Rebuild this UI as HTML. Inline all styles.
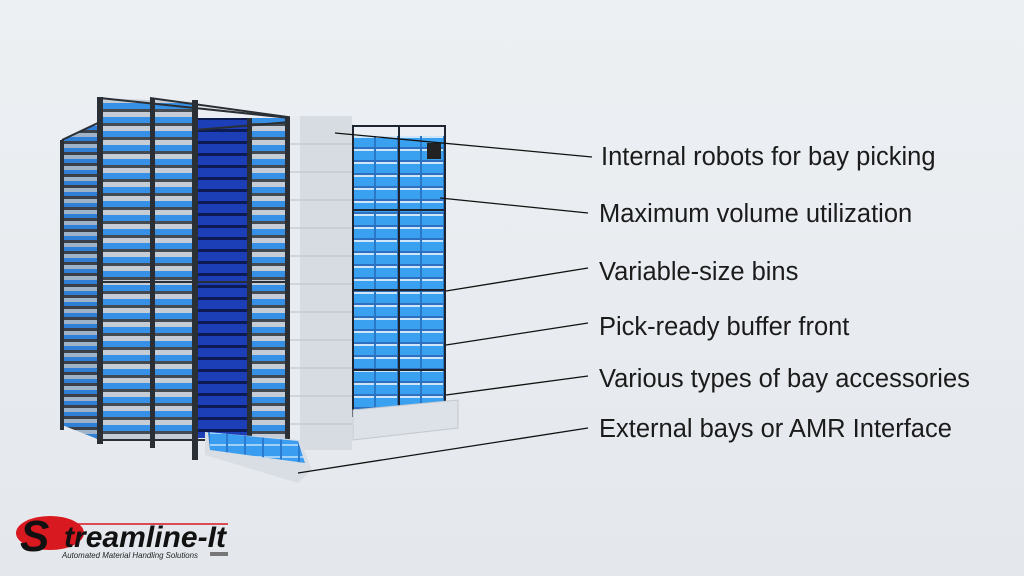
<!DOCTYPE html>
<html><head><meta charset="utf-8"><style>
html,body{margin:0;padding:0;width:1024px;height:576px;overflow:hidden;background:#e8ecf0}
svg{display:block}
</style></head><body>
<svg width="1024" height="576" viewBox="0 0 1024 576" xmlns="http://www.w3.org/2000/svg">
<defs>
<linearGradient id="bg" x1="0" y1="0" x2="0" y2="1"><stop offset="0" stop-color="#edf0f3"/><stop offset="1" stop-color="#e4e8ed"/></linearGradient>
<pattern id="shelfL" x="0" y="100" width="40" height="11" patternUnits="userSpaceOnUse">
<rect width="40" height="11" fill="#2f7fd6"/><rect y="0" width="40" height="4" fill="#9fb3c8"/><rect y="8" width="40" height="3" fill="#3a3f48"/></pattern>
<pattern id="shelfF" x="0" y="98" width="90" height="14" patternUnits="userSpaceOnUse">
<rect width="90" height="14" fill="#3690e6"/><rect y="0" width="90" height="5" fill="#c5ccd6"/><rect y="11" width="90" height="3" fill="#444a52"/></pattern>
<pattern id="dark" x="0" y="0" width="60" height="12" patternUnits="userSpaceOnUse">
<rect width="60" height="12" fill="#1c3fb8"/><rect y="9" width="60" height="3" fill="#0c1a55"/></pattern>
<pattern id="bins" x="353" y="136" width="23" height="13" patternUnits="userSpaceOnUse">
<rect width="23" height="13" fill="#3aa0f0"/><rect y="0" width="23" height="2" fill="#cfe6fa"/><rect x="21" width="2" height="13" fill="#2a78c8"/><rect y="11" width="23" height="2" fill="#2f6fc0"/></pattern>
<pattern id="tray" x="210" y="432" width="18" height="12" patternUnits="userSpaceOnUse">
<rect width="18" height="12" fill="#3b9df0"/><rect width="18" height="2" fill="#9fd0f8"/><rect x="16" width="2" height="12" fill="#2a7ad0"/></pattern>
</defs>
<rect width="1024" height="576" fill="url(#bg)"/>

<!-- left rack side -->
<polygon points="62,140 100,122 100,440 62,425" fill="url(#shelfL)"/>
<!-- left rack front -->
<polygon points="100,122 100,98 195,102 195,440 100,440" fill="url(#shelfF)"/>
<!-- second rack -->
<rect x="195" y="118" width="55" height="320" fill="url(#dark)"/>
<rect x="250" y="118" width="40" height="330" fill="url(#shelfF)"/>
<g fill="#2a2f36">
<rect x="60" y="140" width="4" height="290"/>
<rect x="97" y="97" width="6" height="347"/>
<rect x="150" y="98" width="5" height="350"/>
<rect x="192" y="100" width="6" height="360"/>
<rect x="247" y="118" width="5" height="320"/>
<rect x="285" y="118" width="6" height="340"/>
</g>
<g stroke="#2a2f36" stroke-width="2" fill="none">
<line x1="100" y1="98" x2="290" y2="118"/>
<line x1="150" y1="98" x2="353" y2="126"/>
<line x1="62" y1="140" x2="100" y2="122"/>
<line x1="100" y1="282" x2="290" y2="282"/>
<line x1="100" y1="440" x2="290" y2="440"/>
<line x1="195" y1="130" x2="290" y2="122"/>
</g>
<!-- white column -->
<rect x="290" y="116" width="62" height="334" fill="#d7dce3"/>
<rect x="290" y="116" width="10" height="334" fill="#e8ebef"/>
<g stroke="#b9c0c9" stroke-width="1">
<line x1="290" y1="144" x2="352" y2="144"/><line x1="290" y1="172" x2="352" y2="172"/><line x1="290" y1="200" x2="352" y2="200"/><line x1="290" y1="228" x2="352" y2="228"/><line x1="290" y1="256" x2="352" y2="256"/><line x1="290" y1="284" x2="352" y2="284"/><line x1="290" y1="312" x2="352" y2="312"/><line x1="290" y1="340" x2="352" y2="340"/><line x1="290" y1="368" x2="352" y2="368"/><line x1="290" y1="396" x2="352" y2="396"/><line x1="290" y1="424" x2="352" y2="424"/>
</g>
<!-- right rack -->
<rect x="353" y="136" width="92" height="280" fill="url(#bins)"/>
<g stroke="#1f2530" stroke-width="2" fill="none">
<rect x="353" y="126" width="92" height="290"/>
<line x1="399" y1="126" x2="399" y2="416"/>
<line x1="353" y1="210" x2="445" y2="210"/>
<line x1="353" y1="290" x2="445" y2="290"/>
<line x1="353" y1="370" x2="445" y2="370"/>
</g>
<rect x="427" y="143" width="14" height="16" fill="#222"/>
<polygon points="353,410 458,400 458,428 353,440" fill="#dde2e8" stroke="#c2c8d0"/>
<polygon points="205,432 300,440 312,470 298,483 205,455" fill="#d9dee5"/>
<polygon points="208,432 298,441 305,463 210,450" fill="url(#tray)"/>

<g stroke="#111" stroke-width="1.3">
<line x1="335" y1="133" x2="592" y2="157"/>
<line x1="440" y1="198" x2="588" y2="213"/>
<line x1="446" y1="291" x2="588" y2="268"/>
<line x1="446" y1="345" x2="588" y2="323"/>
<line x1="446" y1="395" x2="588" y2="376"/>
<line x1="298" y1="473" x2="588" y2="428"/>
</g>
<g font-family="Liberation Sans, sans-serif" font-size="25.5" fill="#1b1b1b">
<text x="601" y="165">Internal robots for bay picking</text>
<text x="599" y="222">Maximum volume utilization</text>
<text x="599" y="280">Variable-size bins</text>
<text x="599" y="335">Pick-ready buffer front</text>
<text x="599" y="387">Various types of bay accessories</text>
<text x="599" y="437">External bays or AMR Interface</text>
</g>
<!-- logo -->
<ellipse cx="50" cy="533" rx="34" ry="17" fill="#d8191f"/>
<text x="20" y="551" font-family="Liberation Sans, sans-serif" font-weight="bold" font-style="italic" font-size="44" fill="#111">S</text>
<line x1="68" y1="524" x2="228" y2="524" stroke="#d8191f" stroke-width="1.5"/>
<text x="64" y="547" font-family="Liberation Sans, sans-serif" font-weight="bold" font-style="italic" font-size="30" fill="#111" textLength="162" lengthAdjust="spacingAndGlyphs">treamline-It</text>
<text x="62" y="558" font-family="Liberation Sans, sans-serif" font-style="italic" font-size="8.5" fill="#222" textLength="136" lengthAdjust="spacingAndGlyphs">Automated Material Handling Solutions</text>
<rect x="210" y="552" width="18" height="4" fill="#777"/>
</svg>
</body></html>
